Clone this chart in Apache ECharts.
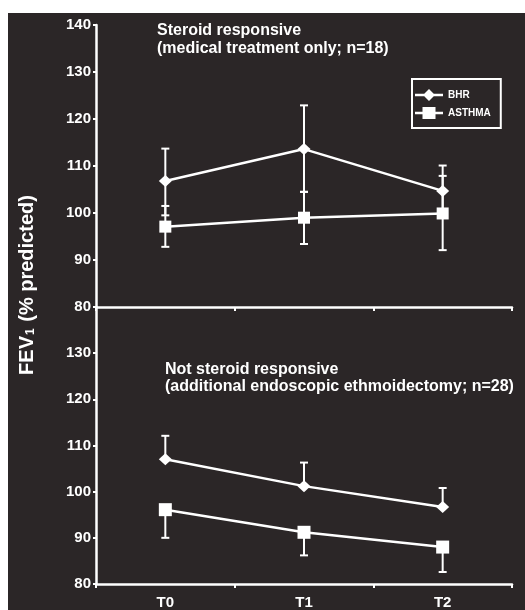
<!DOCTYPE html>
<html>
<head>
<meta charset="utf-8">
<script src="https://cdn.jsdelivr.net/npm/echarts@6/dist/echarts.min.js"></script>
<style>
html,body{margin:0;padding:0;background:#fff;}
#chart{width:525px;height:610px;}
</style>
</head>
<body>
<div id="chart"></div>
<script>
// ---- data ----
const categories = ['T0', 'T1', 'T2'];
const yTicks = [80, 90, 100, 110, 120, 130, 140];
const seriesNames = ['BHR', 'ASTHMA'];

// Panel 1: Steroid responsive (medical treatment only; n=18)
const p1Bhr = [106.8, 113.6, 104.7];
const p1BhrHigh = [113.7, 122.9, 110.1];
const p1BhrLow = [99.5, 104.5, 99.3];
const p1Asthma = [97.1, 99.0, 99.9];
const p1AsthmaHigh = [101.5, 104.5, 107.9];
const p1AsthmaLow = [92.8, 93.4, 92.1];

// Panel 2: Not steroid responsive (additional endoscopic ethmoidectomy; n=28)
const p2Bhr = [107.0, 101.2, 96.7];
const p2BhrHigh = [112.1, 106.3, 100.8];
const p2BhrLow = [107.0, 101.2, 96.7];
const p2Asthma = [96.1, 91.2, 88.0];
const p2AsthmaHigh = [96.1, 91.2, 88.0];
const p2AsthmaLow = [90.0, 86.2, 82.6];

const title1 = 'Steroid responsive\n(medical treatment only; n=18)';
const title2 = 'Not steroid responsive\n(additional endoscopic ethmoidectomy; n=28)';

// ---- styling ----
const FG = '#ffffff';
const BG = '#2b2627';
const FONT = '"Liberation Sans", Arial, sans-serif';
const ICON_BHR = 'path://M0,4.75 L9.25,4.75 L14,0 L18.75,4.75 L28,4.75 L28,7.25 L18.75,7.25 L14,12 L9.25,7.25 L0,7.25 Z';
const ICON_ASTHMA = 'path://M0,4.75 L7.5,4.75 L7.5,0 L20.5,0 L20.5,4.75 L28,4.75 L28,7.25 L20.5,7.25 L20.5,12 L7.5,12 L7.5,7.25 L0,7.25 Z';

function errData(lo, hi) {
  return categories.map((c, i) => [i, lo[i], hi[i]]);
}
function errorSeries(name, xi, lo, hi) {
  return {
    type: 'custom', name: name, xAxisIndex: xi, yAxisIndex: xi, z: 1,
    silent: true, clip: false,
    data: errData(lo, hi),
    renderItem: function (params, api) {
      const x = api.value(0);
      const pLo = api.coord([x, api.value(1)]);
      const pHi = api.coord([x, api.value(2)]);
      const hw = 4;
      const st = { stroke: FG, lineWidth: 2 };
      return {
        type: 'group', children: [
          { type: 'line', shape: { x1: pLo[0], y1: pLo[1], x2: pHi[0], y2: pHi[1] }, style: st },
          { type: 'line', shape: { x1: pHi[0] - hw, y1: pHi[1], x2: pHi[0] + hw, y2: pHi[1] }, style: st },
          { type: 'line', shape: { x1: pLo[0] - hw, y1: pLo[1], x2: pLo[0] + hw, y2: pLo[1] }, style: st }
        ]
      };
    }
  };
}
function lineSeries(name, xi, data, symbol, size) {
  return {
    type: 'line', name: name, xAxisIndex: xi, yAxisIndex: xi, z: 3,
    data: data, symbol: symbol, symbolSize: size, showAllSymbol: true,
    lineStyle: { color: FG, width: 2.5 },
    itemStyle: { color: FG, borderColor: FG, borderWidth: 0 },
    emphasis: { disabled: true }, animation: false
  };
}
function xAxis(gi, showLabels) {
  return {
    type: 'category', gridIndex: gi, data: categories, boundaryGap: true,
    axisLine: { show: true, lineStyle: { color: FG, width: 2.5 } },
    axisTick: { show: true, length: 4, lineStyle: { color: FG, width: 2 } },
    axisLabel: { show: showLabels, color: FG, fontFamily: FONT, fontWeight: 'bold', fontSize: 15, margin: 11 },
    splitLine: { show: false }
  };
}
function yAxis(gi, hideTop) {
  return {
    type: 'value', gridIndex: gi, min: 80, max: 140, interval: 10,
    axisLine: { show: true, lineStyle: { color: FG, width: 2.5 } },
    axisTick: { show: true, length: 3, lineStyle: { color: FG, width: 2 } },
    axisLabel: {
      color: FG, fontFamily: FONT, fontWeight: 'bold', fontSize: 15, margin: 5,
      formatter: function (v) { return (hideTop && v === 140) ? '' : (yTicks.indexOf(v) >= 0 ? String(v) : ''); }
    },
    splitLine: { show: false }
  };
}

const chart = echarts.init(document.getElementById('chart'), null, { renderer: 'canvas' });
chart.setOption({
  backgroundColor: BG,
  animation: false,
  textStyle: { fontFamily: FONT },
  grid: [
    { left: 96, top: 25, width: 416, height: 282, containLabel: false },
    { left: 96, top: 307, width: 416, height: 283, containLabel: false }
  ],
  xAxis: [xAxis(0, false), xAxis(1, true)],
  yAxis: [yAxis(0, false), yAxis(1, true)],
  title: [
    { text: title1, left: 157, top: 22, padding: 0,
      textStyle: { color: FG, fontFamily: FONT, fontWeight: 'bold', fontSize: 16, lineHeight: 18 } },
    { text: title2, left: 165, top: 361, padding: 0,
      textStyle: { color: FG, fontFamily: FONT, fontWeight: 'bold', fontSize: 16, lineHeight: 17 } }
  ],
  legend: {
    data: [
      { name: seriesNames[0], icon: ICON_BHR },
      { name: seriesNames[1], icon: ICON_ASTHMA }
    ],
    orient: 'vertical', left: 412, top: 79,
    padding: [10, 10, 9, 3], itemGap: 6, itemWidth: 28, itemHeight: 12,
    borderColor: FG, borderWidth: 2, borderRadius: 0,
    itemStyle: { color: FG, borderWidth: 0 },
    textStyle: { color: FG, fontFamily: FONT, fontWeight: 'bold', fontSize: 10 },
    selectedMode: false
  },
  graphic: [
    { type: 'rect', left: 0, top: 0, shape: { width: 525, height: 13 }, style: { fill: '#ffffff' }, z: 100, silent: true },
    { type: 'rect', left: 0, top: 0, shape: { width: 8, height: 610 }, style: { fill: '#ffffff' }, z: 100, silent: true },
    {
      type: 'text', x: 26, y: 285, rotation: Math.PI / 2, silent: true,
      style: {
        text: '{a|FEV}{s|1}{a| (% predicted)}',
        align: 'center', verticalAlign: 'middle',
        rich: {
          a: { fill: FG, fontFamily: FONT, fontWeight: 'bold', fontSize: 20, lineHeight: 22, verticalAlign: 'bottom' },
          s: { fill: FG, fontFamily: FONT, fontWeight: 'bold', fontSize: 12, lineHeight: 12, verticalAlign: 'bottom', padding: [9, 1, 0, 1] }
        }
      }
    }
  ],
  series: [
    errorSeries('e1', 0, p1BhrLow, p1BhrHigh),
    errorSeries('e2', 0, p1AsthmaLow, p1AsthmaHigh),
    errorSeries('e3', 1, p2BhrLow, p2BhrHigh),
    errorSeries('e4', 1, p2AsthmaLow, p2AsthmaHigh),
    lineSeries(seriesNames[0], 0, p1Bhr, 'diamond', [13, 12]),
    lineSeries(seriesNames[1], 0, p1Asthma, 'rect', 12),
    lineSeries(seriesNames[0], 1, p2Bhr, 'diamond', [13, 12]),
    lineSeries(seriesNames[1], 1, p2Asthma, 'rect', 13)
  ]
});
</script>
</body>
</html>
